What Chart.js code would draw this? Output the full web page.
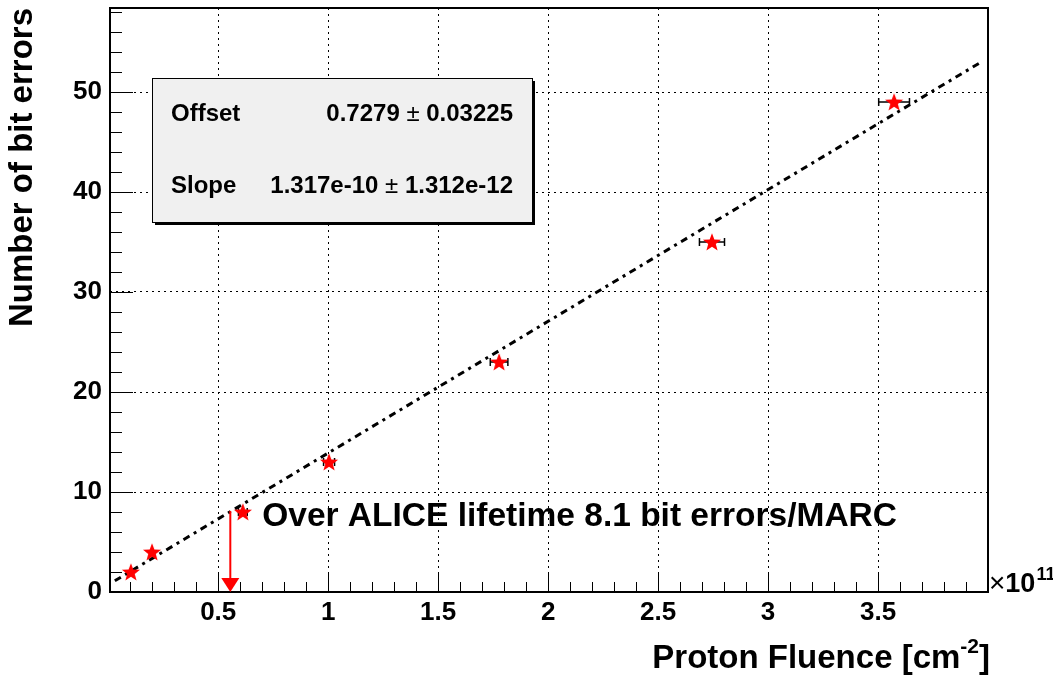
<!DOCTYPE html>
<html>
<head>
<meta charset="utf-8">
<title>Bit errors vs proton fluence</title>
<script src="https://cdn.jsdelivr.net/npm/chart.js@4.4.1/dist/chart.umd.min.js"></script>
<style>
  html, body { margin: 0; padding: 0; background: #fff; }
  #wrap { position: relative; width: 1053px; height: 677px; }
</style>
</head>
<body>
<div id="wrap"><canvas id="fluenceChart"></canvas></div>
<script>
// Measured points, fluence in units of 1e11 cm^-2
const fluence    = [0.103, 0.199, 0.612, 1.004, 1.777, 2.745, 3.573];
const fluenceErr = [0.004, 0.008, 0.020, 0.025, 0.040, 0.057, 0.070];
const bitErrors  = [2, 4, 8, 13, 23, 35, 49];

// Linear fit result (slope per cm^-2)
const fitOffset = 0.7279, fitOffsetErr = 0.03225;
const fitSlope = 1.317e-10, fitSlopeErr = 1.312e-12;
const fitRange = [0.03, 3.96];

// ALICE lifetime marker
const aliceFluence = 0.555;
const aliceErrors = 8.1;

// Axes
const xExponent = 11;
const xRange = [0.008, 4.0];
const yRange = [0, 58.4];
const xTicks = [0.5, 1, 1.5, 2, 2.5, 3, 3.5];
const xTickLabels = ['0.5', '1', '1.5', '2', '2.5', '3', '3.5'];
const yTicks = [0, 10, 20, 30, 40, 50];
const yTickLabels = ['0', '10', '20', '30', '40', '50'];

const FONT = '"Liberation Sans", Arial, Helvetica, sans-serif';
const unit = Math.pow(10, xExponent);

function makeStar(size, color) {
    const c = document.createElement('canvas');
    c.width = c.height = size;
    const g = c.getContext('2d');
    const cx = size / 2, cy = size / 2 + 0.8;
    const R = size / 2 - 0.5, r = R * 0.42;
    g.beginPath();
    for (let i = 0; i < 10; i++) {
        const rad = i % 2 ? r : R;
        const a = -Math.PI / 2 + i * Math.PI / 5;
        g.lineTo(cx + rad * Math.cos(a), cy + rad * Math.sin(a));
    }
    g.closePath();
    g.fillStyle = color;
    g.fill();
    return c;
}

const fitLine = fitRange.map(x => ({ x: x, y: fitOffset + fitSlope * x * unit }));
const points = fluence.map((x, i) => ({ x: x, y: bitErrors[i] }));

// Horizontal error bars under the stars
const errorBars = {
    id: 'errorBars',
    beforeDatasetDraw(chart, args) {
        if (args.index !== 0) return;
        const { ctx, scales: { x, y } } = chart;
        ctx.save();
        ctx.strokeStyle = '#000';
        ctx.lineWidth = 1.5;
        fluence.forEach((f, i) => {
            const x0 = x.getPixelForValue(f - fluenceErr[i]);
            const x1 = x.getPixelForValue(f + fluenceErr[i]);
            const py = y.getPixelForValue(bitErrors[i]);
            ctx.beginPath();
            ctx.moveTo(x0, py); ctx.lineTo(x1, py);
            if (x1 - x0 > 6) {
                ctx.moveTo(x0, py - 4); ctx.lineTo(x0, py + 4);
                ctx.moveTo(x1, py - 4); ctx.lineTo(x1, py + 4);
            }
            ctx.stroke();
        });
        ctx.restore();
    }
};

function drawParts(ctx, parts, xRight, baseline) {
    // parts drawn right to left: [text, font, rise]
    let xr = xRight;
    for (let i = parts.length - 1; i >= 0; i--) {
        const [t, f, rise] = parts[i];
        ctx.font = f;
        const w = ctx.measureText(t).width;
        ctx.fillText(t, xr - w, baseline - rise);
        xr -= w;
    }
}

const decorations = {
    id: 'decorations',
    afterDraw(chart) {
        const { ctx, chartArea: a, scales: { x, y } } = chart;
        ctx.save();
        ctx.fillStyle = '#000';
        ctx.strokeStyle = '#000';

        // inner tick marks
        ctx.lineWidth = 1;
        ctx.beginPath();
        for (let v = 0.1; v < xRange[1] - 0.01; v += 0.1) {
            const px = Math.round(x.getPixelForValue(v)) + 0.5;
            const major = Math.abs(v * 2 - Math.round(v * 2)) < 1e-6;
            ctx.moveTo(px, a.bottom);
            ctx.lineTo(px, a.bottom - (major ? 20 : 10));
        }
        for (let v = 2; v < yRange[1]; v += 2) {
            const py = Math.round(y.getPixelForValue(v)) + 0.5;
            ctx.moveTo(a.left, py);
            ctx.lineTo(a.left + (v % 10 === 0 ? 23 : 12), py);
        }
        ctx.stroke();

        // frame
        ctx.lineWidth = 2;
        ctx.strokeRect(a.left, a.top, a.right - a.left, a.bottom - a.top);

        // ALICE lifetime arrow
        const ax = x.getPixelForValue(aliceFluence);
        const ay0 = y.getPixelForValue(aliceErrors);
        const ay1 = y.getPixelForValue(0);
        ctx.strokeStyle = '#ff0000';
        ctx.fillStyle = '#ff0000';
        ctx.lineWidth = 2;
        ctx.beginPath();
        ctx.moveTo(ax, ay0); ctx.lineTo(ax, ay1 - 12);
        ctx.stroke();
        ctx.beginPath();
        ctx.moveTo(ax - 9, ay1 - 14);
        ctx.lineTo(ax + 9, ay1 - 14);
        ctx.lineTo(ax, ay1);
        ctx.closePath();
        ctx.fill();

        // annotation
        ctx.fillStyle = '#000';
        ctx.font = 'bold 33.5px ' + FONT;
        ctx.textAlign = 'left';
        ctx.textBaseline = 'alphabetic';
        ctx.fillText('Over ALICE lifetime ' + aliceErrors + ' bit errors/MARC',
            x.getPixelForValue(0.70), y.getPixelForValue(6.6));

        // fit statistics box
        const bx = 152, by = 78, bw = 380, bh = 144;
        ctx.fillStyle = '#000';
        ctx.fillRect(bx + 3, by + 3, bw, bh);
        ctx.fillStyle = '#f0f0f0';
        ctx.fillRect(bx, by, bw, bh);
        ctx.strokeStyle = '#000';
        ctx.lineWidth = 1;
        ctx.strokeRect(bx + 0.5, by + 0.5, bw, bh);
        ctx.fillStyle = '#000';
        const rows = [
            ['Offset', String(fitOffset), String(fitOffsetErr), by + 43],
            ['Slope', fitSlope.toExponential(3), fitSlopeErr.toExponential(3), by + 115]
        ];
        rows.forEach(([name, val, err, base]) => {
            ctx.font = 'bold 24px ' + FONT;
            ctx.fillText(name, bx + 19, base);
            drawParts(ctx, [
                [val, 'bold 24px ' + FONT, 0],
                [' \u00b1 ', '24px ' + FONT, 0],
                [err, 'bold 24px ' + FONT, 0]
            ], bx + bw - 19, base);
        });

        // x axis title with superscript
        drawParts(ctx, [
            ['Proton Fluence [cm', 'bold 33px ' + FONT, 0],
            ['-2', 'bold 21px ' + FONT, 15],
            [']', 'bold 33px ' + FONT, 0]
        ], a.right + 2, 668);

        // axis multiplier
        ctx.font = '28px ' + FONT;
        ctx.fillText('\u00d7', a.right + 1, a.bottom);
        const mw = ctx.measureText('\u00d7').width;
        ctx.font = 'bold 27px ' + FONT;
        ctx.fillText('10', a.right + 1 + mw, a.bottom);
        const tw = ctx.measureText('10').width;
        ctx.font = 'bold 18px ' + FONT;
        ctx.fillText(String(xExponent), a.right + 2 + mw + tw, a.bottom - 12);

        ctx.restore();
    }
};

function noEdgePadding(s) {
    s.paddingTop = 0; s.paddingBottom = 0;
    s.paddingLeft = 0; s.paddingRight = 0;
}

const ctx = document.getElementById('fluenceChart').getContext('2d');
new Chart(ctx, {
    data: {
        datasets: [
            {
                type: 'scatter',
                label: 'Measured',
                data: points,
                pointStyle: makeStar(20, '#ff0000'),
                order: 0
            },
            {
                type: 'line',
                label: 'Fit',
                data: fitLine,
                borderColor: '#000',
                borderWidth: 3,
                borderDash: [7, 5, 3, 5],
                pointRadius: 0,
                fill: false,
                order: 1
            }
        ]
    },
    plugins: [errorBars, decorations],
    options: {
        responsive: true,
        maintainAspectRatio: false,
        animation: false,
        events: [],
        layout: { padding: { left: 0, top: 8, right: 65, bottom: 0 } },
        plugins: {
            legend: { display: false },
            tooltip: { enabled: false }
        },
        scales: {
            x: {
                type: 'linear',
                min: xRange[0],
                max: xRange[1],
                afterBuildTicks: s => { s.ticks = xTicks.map(v => ({ value: v })); },
                afterFit: s => { s.height = 85; noEdgePadding(s); },
                grid: { color: '#000', lineWidth: 1, drawTicks: false },
                border: { display: false, dash: [2, 4] },
                ticks: {
                    autoSkip: false,
                    maxRotation: 0,
                    padding: 5,
                    color: '#000',
                    font: { family: FONT, size: 26, weight: 'bold' },
                    callback: (v, i) => xTickLabels[i]
                }
            },
            y: {
                type: 'linear',
                min: yRange[0],
                max: yRange[1],
                afterBuildTicks: s => { s.ticks = yTicks.map(v => ({ value: v })); },
                afterFit: s => { s.width = 110; noEdgePadding(s); },
                grid: { color: '#000', lineWidth: 1, drawTicks: false },
                border: { display: false, dash: [2, 4] },
                title: {
                    display: true,
                    text: 'Number of bit errors',
                    align: 'end',
                    color: '#000',
                    font: { family: FONT, size: 33, weight: 'bold' },
                    padding: { top: 3, bottom: 0 }
                },
                ticks: {
                    padding: 8,
                    color: '#000',
                    font: { family: FONT, size: 26, weight: 'bold' },
                    callback: (v, i) => yTickLabels[i]
                }
            }
        }
    }
});
</script>
</body>
</html>
